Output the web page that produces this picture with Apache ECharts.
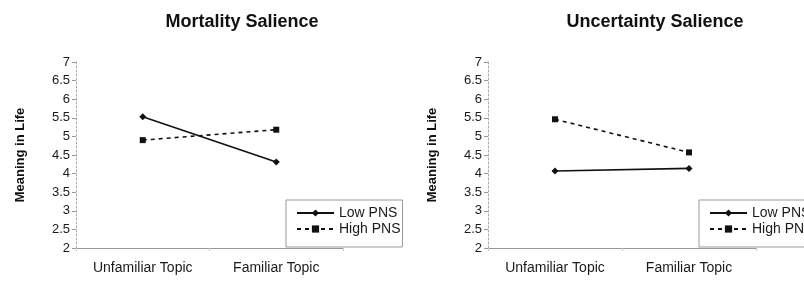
<!DOCTYPE html>
<html>
<head>
<meta charset="utf-8">
<script src="https://cdn.jsdelivr.net/npm/echarts@6/dist/echarts.min.js"></script>
<style>
html, body { margin: 0; padding: 0; background: #fff; }
#main { width: 804px; height: 281px; }
</style>
</head>
<body>
<div id="main"></div>
<script>
var categories = ['Unfamiliar Topic', 'Familiar Topic'];
var mortalityLow = [5.53, 4.31];
var mortalityHigh = [4.90, 5.18];
var uncertaintyLow = [4.07, 4.14];
var uncertaintyHigh = [5.46, 4.57];
var yTicks = ['2', '2.5', '3', '3.5', '4', '4.5', '5', '5.5', '6', '6.5', '7'];

var chartDom = document.getElementById('main');
var myChart = echarts.init(chartDom);
var option;

var font = 'Liberation Sans, Arial, sans-serif';

function makeXAxis(gridIndex) {
    return {
        type: 'category',
        gridIndex: gridIndex,
        data: categories,
        boundaryGap: true,
        axisLine: { lineStyle: { color: '#999', width: 1 } },
        axisTick: { show: true, length: 3, lineStyle: { color: '#ccc' } },
        axisLabel: { color: '#1a1a1a', fontSize: 14, fontFamily: font, margin: 13 }
    };
}

function makeYAxis(gridIndex) {
    return {
        type: 'value',
        gridIndex: gridIndex,
        min: 2,
        max: 7,
        interval: 0.5,
        name: 'Meaning in Life',
        nameLocation: 'middle',
        nameGap: 49,
        nameTextStyle: { fontWeight: 'bold', fontSize: 13, color: '#111', fontFamily: font },
        axisLine: { show: true, lineStyle: { color: '#aaa', type: [2, 2] } },
        axisTick: { show: true, length: 4, lineStyle: { color: '#999' } },
        splitLine: { show: false },
        axisLabel: {
            color: '#1a1a1a', fontSize: 13, fontFamily: font, margin: 6,
            formatter: function (v) { return yTicks[Math.round((v - 2) * 2)]; }
        }
    };
}

function makeLegend(left) {
    return {
        orient: 'vertical',
        left: left,
        top: 200,
        data: ['Low PNS', 'High PNS'],
        backgroundColor: '#fff',
        borderColor: '#999',
        borderWidth: 1,
        padding: [6, 2, 11, 10],
        itemGap: 2,
        itemWidth: 37,
        itemHeight: 9,
        textStyle: { color: '#1a1a1a', fontSize: 14, fontFamily: font },
        selectedMode: false
    };
}

function lowSeries(idx, data) {
    return {
        name: 'Low PNS',
        type: 'line',
        xAxisIndex: idx,
        yAxisIndex: idx,
        data: data,
        symbol: 'diamond',
        symbolSize: 7,
        itemStyle: { color: '#111' },
        lineStyle: { color: '#111', width: 1.6 }
    };
}

function highSeries(idx, data) {
    return {
        name: 'High PNS',
        type: 'line',
        xAxisIndex: idx,
        yAxisIndex: idx,
        data: data,
        symbol: 'rect',
        symbolSize: 6,
        itemStyle: { color: '#111' },
        lineStyle: { color: '#111', width: 1.6, type: [4, 4] }
    };
}

option = {
    animation: false,
    title: [
        {
            text: 'Mortality Salience',
            left: 237, top: 8, textAlign: 'center',
            textStyle: { fontSize: 18, fontWeight: 'bold', color: '#111', fontFamily: font }
        },
        {
            text: 'Uncertainty Salience',
            left: 650, top: 8, textAlign: 'center',
            textStyle: { fontSize: 18, fontWeight: 'bold', color: '#111', fontFamily: font }
        }
    ],
    legend: [makeLegend(286), makeLegend(699)],
    grid: [
        { left: 76, right: 461, top: 62, bottom: 33 },
        { left: 488, right: 48, top: 62, bottom: 33 }
    ],
    xAxis: [makeXAxis(0), makeXAxis(1)],
    yAxis: [makeYAxis(0), makeYAxis(1)],
    series: [
        lowSeries(0, mortalityLow),
        highSeries(0, mortalityHigh),
        lowSeries(1, uncertaintyLow),
        highSeries(1, uncertaintyHigh)
    ]
};

option && myChart.setOption(option);
</script>
</body>
</html>
